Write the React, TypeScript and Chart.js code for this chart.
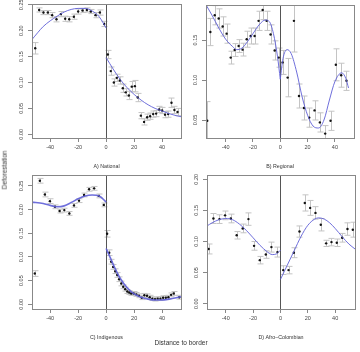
import { useEffect, useRef } from "react";
import { Chart, registerables } from "chart.js";
Chart.register(...registerables);

const xTicks = [-40, -20, 0, 20, 40];
const yTicksA = [0, 0.05, 0.1, 0.15, 0.2, 0.25];
const yTicksB = [0.05, 0.1, 0.15];
const yTicksC = [0, 0.05, 0.1, 0.15, 0.2, 0.25];
const yTicksD = [0, 0.05, 0.1, 0.15, 0.2];

// A) National
const aLeftX = [-50.7, -47.9, -44.8, -41.7, -38.6, -35.5, -32.4, -29.3, -26.4, -23.1, -20, -16.9, -13.8, -11, -7.6, -4.5, -1.4];
const aLeftY = [0.166, 0.24, 0.235, 0.235, 0.23, 0.222, 0.232, 0.223, 0.222, 0.227, 0.237, 0.239, 0.24, 0.237, 0.23, 0.235, 0.213];
const aLeftE = [0.011, 0.004, 0.004, 0.004, 0.005, 0.005, 0.005, 0.005, 0.005, 0.005, 0.005, 0.004, 0.004, 0.004, 0.005, 0.005, 0.005];
const aRightX = [1.2, 3.3, 5.5, 7.6, 9.8, 11.9, 14, 16.2, 18.3, 20.5, 22.6, 24.8, 27.1, 29.3, 31.4, 33.6, 35.7, 37.9, 40, 42.1, 44.3, 46.7, 48.8, 51];
const aRightY = [0.154, 0.122, 0.1, 0.109, 0.104, 0.089, 0.081, 0.075, 0.092, 0.093, 0.071, 0.036, 0.024, 0.033, 0.035, 0.039, 0.04, 0.048, 0.046, 0.038, 0.039, 0.061, 0.047, 0.043];
const aRightE = [0.008, 0.008, 0.007, 0.007, 0.007, 0.008, 0.007, 0.008, 0.01, 0.011, 0.008, 0.006, 0.006, 0.006, 0.006, 0.006, 0.006, 0.006, 0.006, 0.006, 0.006, 0.009, 0.007, 0.007];
const aFitLX = [-53, -45, -40, -35, -30, -25, -20, -15, -10, -5, 0];
const aFitLY = [0.183, 0.208, 0.219, 0.228, 0.236, 0.241, 0.243, 0.243, 0.238, 0.227, 0.205];
const aFitRX = [0, 5, 10, 15, 20, 25, 30, 35, 40, 45, 50, 53.5];
const aFitRY = [0.148, 0.126, 0.106, 0.09, 0.077, 0.066, 0.057, 0.05, 0.045, 0.04, 0.036, 0.034];

// B) Regional
const bLeftX = [-53.5, -51.2, -48, -45.1, -42.2, -39.3, -36.3, -33.4, -30.5, -27.6, -24.6, -21.7, -18.8, -15.9, -12.9, -10, -7.1, -4.1, -1.2];
const bLeftY = [0.049, 0.16, 0.181, 0.177, 0.167, 0.158, 0.128, 0.1375, 0.1425, 0.138, 0.151, 0.155, 0.155, 0.174, 0.1875, 0.174, 0.157, 0.137, 0.128];
const bLeftE = [0.024, 0.017, 0.012, 0.012, 0.012, 0.012, 0.008, 0.008, 0.008, 0.008, 0.01, 0.01, 0.01, 0.012, 0.012, 0.012, 0.012, 0.012, 0.012];
const bRightX = [1.7, 5.4, 10, 13.7, 17.3, 21.2, 25.1, 29, 32.9, 36.8, 40.7, 44.6, 48.5];
const bRightY = [0.122, 0.103, 0.174, 0.08, 0.065, 0.053, 0.062, 0.047, 0.033, 0.049, 0.119, 0.106, 0.099];
const bRightE = [0.015, 0.024, 0.039, 0.015, 0.015, 0.012, 0.012, 0.012, 0.01, 0.012, 0.02, 0.015, 0.012];
const bFitLX = [-54.4, -50, -45, -40, -35, -32, -28, -24, -20, -15, -11, -8, -5, -2, 0];
const bFitLY = [0.194, 0.181, 0.165, 0.151, 0.142, 0.138, 0.14, 0.148, 0.158, 0.17, 0.175, 0.173, 0.158, 0.129, 0.101];
const bFitRX = [0, 2, 5, 8, 12, 16, 20, 24, 28, 32, 36, 40, 45, 48, 50];
const bFitRY = [0.101, 0.127, 0.138, 0.133, 0.11, 0.079, 0.056, 0.0425, 0.04, 0.05, 0.075, 0.098, 0.109, 0.102, 0.09];

// C) Indigenous
const cLeftX = [-51, -47.4, -43.8, -40.2, -36.6, -33.3, -29.9, -26.3, -23, -19.4, -15.8, -12.2, -8.6, -5.3, -1.7];
const cLeftY = [0.065, 0.261, 0.232, 0.218, 0.206, 0.197, 0.199, 0.192, 0.209, 0.219, 0.231, 0.243, 0.245, 0.229, 0.21];
const cLeftE = [0.006, 0.005, 0.005, 0.005, 0.004, 0.004, 0.004, 0.004, 0.004, 0.004, 0.004, 0.004, 0.004, 0.004, 0.004];
const cRightX = [0.7, 2.2, 3.6, 5, 6.5, 7.9, 9.3, 10.8, 12.2, 13.6, 15.1, 16.5, 17.9, 19.6, 21.5, 23.4, 25.4, 27.3, 29.2, 31.1, 33, 34.9, 36.8, 38.8, 40.7, 42.6, 44.5, 46.4, 48.3, 52.2];
const cRightY = [0.149, 0.109, 0.09, 0.079, 0.07, 0.062, 0.053, 0.044, 0.037, 0.032, 0.027, 0.025, 0.023, 0.023, 0.021, 0.018, 0.014, 0.019, 0.018, 0.015, 0.012, 0.011, 0.012, 0.012, 0.014, 0.014, 0.015, 0.02, 0.023, 0.015];
const cRightE = [0.007, 0.006, 0.005, 0.005, 0.005, 0.005, 0.005, 0.005, 0.004, 0.004, 0.004, 0.004, 0.004, 0.004, 0.004, 0.004, 0.004, 0.004, 0.004, 0.004, 0.004, 0.004, 0.004, 0.004, 0.004, 0.004, 0.004, 0.004, 0.004, 0.004];
const cFitLX = [-53, -45, -40, -35, -30, -25, -20, -15, -10, -5, 0];
const cFitLY = [0.216, 0.213, 0.209, 0.206, 0.208, 0.215, 0.223, 0.229, 0.231, 0.229, 0.216];
const cFitRX = [0, 3, 6, 10, 15, 20, 25, 30, 35, 40, 45, 50, 53.5];
const cFitRY = [0.118, 0.098, 0.078, 0.055, 0.035, 0.022, 0.015, 0.011, 0.009, 0.009, 0.011, 0.014, 0.016];

// D) Afro-Colombian
const dLeftX = [-52.5, -49, -44.6, -40.5, -36.3, -32, -27.6, -23.4, -19.3, -15.1, -10.7, -6.6, -2.2];
const dLeftY = [0.088, 0.137, 0.136, 0.142, 0.137, 0.11, 0.121, 0.136, 0.093, 0.07, 0.079, 0.091, 0.083];
const dLeftE = [0.008, 0.008, 0.007, 0.007, 0.007, 0.006, 0.007, 0.01, 0.007, 0.006, 0.006, 0.008, 0.008];
const dRightX = [2, 5.9, 9.8, 13.9, 17.8, 21.7, 25.6, 29.5, 33.4, 37.3, 41.2, 45.1, 49, 52.9];
const dRightY = [0.054, 0.054, 0.082, 0.116, 0.162, 0.154, 0.146, 0.127, 0.097, 0.099, 0.098, 0.106, 0.12, 0.119];
const dRightE = [0.007, 0.006, 0.008, 0.009, 0.013, 0.012, 0.01, 0.01, 0.005, 0.006, 0.006, 0.007, 0.01, 0.012];
const dFitLX = [-53.7, -50, -45, -40, -35, -30, -25, -20, -15, -10, -6, -3, 0];
const dFitLY = [0.125, 0.13, 0.135, 0.137, 0.135, 0.128, 0.118, 0.106, 0.094, 0.084, 0.079, 0.08, 0.086];
const dFitRX = [0, 5, 10, 15, 20, 25, 28, 32, 36, 40, 45, 50, 54.5];
const dFitRY = [0.039, 0.062, 0.085, 0.108, 0.126, 0.136, 0.138, 0.136, 0.13, 0.121, 0.108, 0.096, 0.088];

const FONT = "'Liberation Sans', Arial, sans-serif";
const zip = (xs: number[], ys: number[]) => xs.map((x, i) => ({ x, y: ys[i] }));

const decor = {
  id: "decor",
  beforeDatasetsDraw(chart: any) {
    const { ctx, chartArea: ca, scales } = chart;
    const xs = scales.x, ys = scales.y;
    ctx.save();
    ctx.beginPath();
    ctx.rect(ca.left, ca.top, ca.right - ca.left, ca.bottom - ca.top);
    ctx.clip();
    ctx.strokeStyle = "#c4c4c4";
    ctx.lineWidth = 1;
    chart.data.datasets.forEach((ds: any) => {
      if (!ds.errs) return;
      ds.data.forEach((p: any, i: number) => {
        const e = ds.errs[i];
        const px = Math.round(xs.getPixelForValue(p.x)) + 0.5;
        const y1 = ys.getPixelForValue(p.y + e);
        const y2 = ys.getPixelForValue(p.y - e);
        ctx.beginPath();
        ctx.moveTo(px, y1); ctx.lineTo(px, y2);
        ctx.moveTo(px - 3, y1); ctx.lineTo(px + 3, y1);
        ctx.moveTo(px - 3, y2); ctx.lineTo(px + 3, y2);
        ctx.stroke();
      });
    });
    const zx = Math.round(xs.getPixelForValue(0)) + 0.5;
    ctx.strokeStyle = "#555";
    ctx.beginPath();
    ctx.moveTo(zx, ca.top); ctx.lineTo(zx, ca.bottom);
    ctx.stroke();
    ctx.restore();
  },
  afterDraw(chart: any) {
    const { ctx, chartArea: ca, scales } = chart;
    const o = chart.options.plugins.decor;
    ctx.save();
    ctx.strokeStyle = "#888";
    ctx.lineWidth = 1;
    ctx.strokeRect(Math.round(ca.left) + 0.5, Math.round(ca.top) + 0.5, Math.round(ca.right - ca.left), Math.round(ca.bottom - ca.top));
    ctx.fillStyle = "#444";
    ctx.font = `5.5px ${FONT}`;
    ctx.textAlign = "center";
    ctx.textBaseline = "middle";
    o.yTicks.forEach((v: number) => {
      const py = scales.y.getPixelForValue(v);
      ctx.save();
      ctx.translate(ca.left - 11, py);
      ctx.rotate(-Math.PI / 2);
      ctx.fillText(v.toFixed(2), 0, 0);
      ctx.restore();
    });
    ctx.restore();
  },
};

type Panel = {
  left: number; top: number; w: number; h: number;
  pad: { left: number; right: number; top: number; bottom: number };
  yW: number; xH: number;
  xMin: number; xMax: number; yMin: number; yMax: number;
  yTicks: number[]; title: string; fitW: number;
  pl: [number[], number[], number[]]; pr: [number[], number[], number[]];
  fl: [number[], number[]]; fr: [number[], number[]];
};

const panels: Panel[] = [
  { left: 0, top: 0, w: 186, h: 176, pad: { left: 0, right: 5, top: 4, bottom: 6.7 }, yW: 32, xH: 31.3,
    xMin: -53, xMax: 53.5, yMin: -0.0071, yMax: 0.2515, yTicks: yTicksA, title: "A) National", fitW: 1,
    pl: [aLeftX, aLeftY, aLeftE], pr: [aRightX, aRightY, aRightE], fl: [aFitLX, aFitLY], fr: [aFitRX, aFitRY] },
  { left: 180, top: 0, w: 180, h: 176, pad: { left: 0, right: 6, top: 5, bottom: 6.7 }, yW: 26, xH: 31.3,
    xMin: -54.4, xMax: 54.0, yMin: 0.0275, yMax: 0.1938, yTicks: yTicksB, title: "B) Regional", fitW: 1,
    pl: [bLeftX, bLeftY, bLeftE], pr: [bRightX, bRightY, bRightE], fl: [bFitLX, bFitLY], fr: [bFitRX, bFitRY] },
  { left: 0, top: 170, w: 186, h: 182, pad: { left: 0, right: 5, top: 5, bottom: 11 }, yW: 32, xH: 32,
    xMin: -53, xMax: 53.5, yMin: -0.0099, yMax: 0.2732, yTicks: yTicksC, title: "C) Indigenous", fitW: 1.6,
    pl: [cLeftX, cLeftY, cLeftE], pr: [cRightX, cRightY, cRightE], fl: [cFitLX, cFitLY], fr: [cFitRX, cFitRY] },
  { left: 180, top: 170, w: 180, h: 182, pad: { left: 0, right: 5, top: 5, bottom: 11 }, yW: 27, xH: 32,
    xMin: -53.7, xMax: 54.5, yMin: -0.0085, yMax: 0.2069, yTicks: yTicksD, title: "D) Afro\u2013Colombian", fitW: 1,
    pl: [dLeftX, dLeftY, dLeftE], pr: [dRightX, dRightY, dRightE], fl: [dFitLX, dFitLY], fr: [dFitRX, dFitRY] },
];

function PanelChart({ p }: { p: Panel }) {
  const ref = useRef<HTMLCanvasElement>(null);
  useEffect(() => {
    if (!ref.current) return;
    const fitColor = "rgba(95,95,215,0.9)";
    const pointDs = (d: [number[], number[], number[]]) => ({
      type: "scatter" as const, data: zip(d[0], d[1]), errs: d[2],
      backgroundColor: "#111", borderColor: "#111", pointRadius: 1.2, pointBorderWidth: 0, showLine: false,
    });
    const fitDs = (d: [number[], number[]]) => ({
      type: "line" as const, data: zip(d[0], d[1]), borderColor: fitColor, borderWidth: p.fitW,
      pointRadius: 0, fill: false, cubicInterpolationMode: "monotone" as const,
    });
    const chart = new Chart(ref.current, {
      type: "scatter",
      data: { datasets: [fitDs(p.fl), fitDs(p.fr), pointDs(p.pl) as any, pointDs(p.pr) as any] },
      options: {
        animation: false, responsive: false, devicePixelRatio: 1,
        layout: { padding: p.pad },
        plugins: { legend: { display: false }, tooltip: { enabled: false }, decor: { yTicks: p.yTicks } } as any,
        scales: {
          x: {
            type: "linear", min: p.xMin, max: p.xMax,
            afterBuildTicks: (s: any) => { s.ticks = xTicks.map((v) => ({ value: v })); },
            afterFit: (s: any) => { s.height = p.xH; },
            grid: { drawOnChartArea: false, drawTicks: true, tickLength: 4, color: "#888" },
            border: { display: false },
            ticks: { color: "#444", font: { size: 5.5, family: FONT }, padding: 2, maxRotation: 0, autoSkip: false,
              callback: (v: any) => String(v) },
            title: { display: true, text: p.title, color: "#333", font: { size: 5.3, family: FONT }, padding: { top: 0, bottom: 0 } },
          },
          y: {
            type: "linear", min: p.yMin, max: p.yMax,
            afterBuildTicks: (s: any) => { s.ticks = p.yTicks.map((v) => ({ value: v })); },
            afterFit: (s: any) => { s.width = p.yW; },
            grid: { drawOnChartArea: false, drawTicks: true, tickLength: 4, color: "#888" },
            border: { display: false },
            ticks: { display: false },
          },
        },
      },
      plugins: [decor],
    } as any);
    return () => chart.destroy();
  }, [p]);
  return (
    <canvas ref={ref} width={p.w} height={p.h}
      style={{ position: "absolute", left: p.left, top: p.top, width: p.w, height: p.h }} />
  );
}

export default function App() {
  return (
    <div style={{ position: "absolute", left: 0, top: 0, width: 360, height: 352, background: "#fff", overflow: "hidden", fontFamily: FONT }}>
      {panels.map((p, i) => <PanelChart key={i} p={p} />)}
      <div style={{ position: "absolute", left: 0, top: 170, width: 0, height: 0 }}>
        <div style={{ position: "absolute", left: 5, top: 0, transform: "translate(-50%,-50%) rotate(-90deg)", fontSize: 6.5, color: "#333", whiteSpace: "nowrap", lineHeight: 1 }}>Deforestation</div>
      </div>
      <div style={{ position: "absolute", left: 181, top: 343, transform: "translate(-50%,-50%)", fontSize: 6.5, color: "#333", whiteSpace: "nowrap", lineHeight: 1 }}>Distance to border</div>
    </div>
  );
}
